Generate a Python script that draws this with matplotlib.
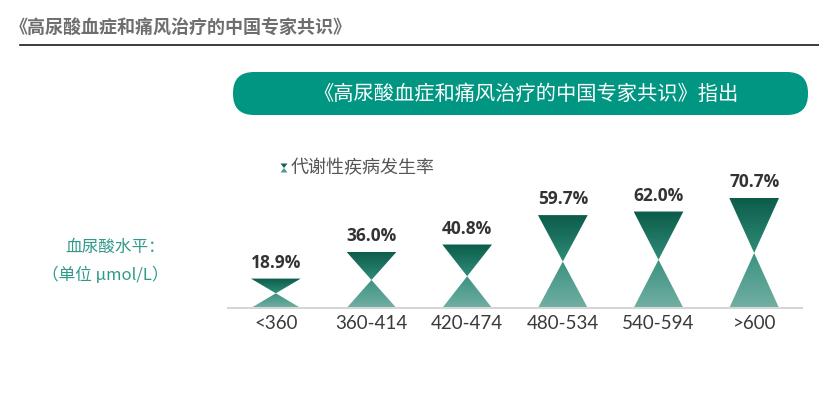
import numpy as np
import matplotlib.pyplot as plt
from matplotlib.patches import Polygon, FancyBboxPatch
from matplotlib.colors import LinearSegmentedColormap

plt.rcParams['font.family'] = ['Noto Sans CJK SC', 'DejaVu Sans']

categories = ['<360', '360-414', '420-474', '480-534', '540-594', '>600']
rates = [18.9, 36.0, 40.8, 59.7, 62.0, 70.7]
value_labels = ['18.9%', '36.0%', '40.8%', '59.7%', '62.0%', '70.7%']

W, H = 819, 397
fig = plt.figure(figsize=(W / 100, H / 100), dpi=100)


def px(x, y):
    # pixel position (from top-left) -> figure fraction
    return x / W, 1 - y / H


# overlay axes in pixel units (y measured upward)
lax = fig.add_axes([0, 0, 1, 1], zorder=-1)
lax.set_xlim(0, W)
lax.set_ylim(0, H)
lax.axis('off')

# header
fig.text(*px(10, 28), '《高尿酸血症和痛风治疗的中国专家共识》', fontsize=13, fontweight='bold',
         color='#6e6e6e', va='center', ha='left')
lax.plot([20, W], [H - 45, H - 45], color='#1a1a1a', lw=1.2)

# banner
lax.add_patch(FancyBboxPatch((233, H - 115), 575, 43,
                             boxstyle='round,pad=0,rounding_size=21',
                             facecolor='#009682', edgecolor='none'))
fig.text(*px(526, 94), '《高尿酸血症和痛风治疗的中国专家共识》指出',
         fontsize=14.6, color='white', ha='center', va='center')

# left label
fig.text(*px(165, 247), '血尿酸水平：', fontsize=12, color='#2f9a8a', ha='right', va='center')
fig.text(*px(168, 275), '（单位 μmol/L）', fontsize=12, color='#2f9a8a', ha='right', va='center')

# main axes: baseline at y=308 px, 1.556 px per percent
ax_left, ax_bottom = px(228, 308)
ax_w = (802 - 228) / W
ax_h = 1.556 * 100 / H
ax = fig.add_axes([ax_left, ax_bottom, ax_w, ax_h])
ax.set_xlim(-0.5, len(categories) - 0.5)
ax.set_ylim(0, 100)

top_cmap = LinearSegmentedColormap.from_list('top', ['#2f8c78', '#0b5c49'])
bot_cmap = LinearSegmentedColormap.from_list('bot', ['#72afa3', '#3a9280'])
grad = np.linspace(0, 1, 256).reshape(-1, 1)
bw = 0.52

for i, v in enumerate(rates):
    mid = v / 2
    # upper inverted triangle
    tri_top = Polygon([[i - bw / 2, v], [i + bw / 2, v], [i, mid]], closed=True,
                      facecolor='none', edgecolor='none')
    ax.add_patch(tri_top)
    im = ax.imshow(grad, cmap=top_cmap, extent=[i - bw / 2, i + bw / 2, mid, v],
                   origin='lower', aspect='auto', zorder=2)
    im.set_clip_path(tri_top)
    # lower triangle
    tri_bot = Polygon([[i - bw / 2, 0], [i + bw / 2, 0], [i, mid]], closed=True,
                      facecolor='none', edgecolor='none')
    ax.add_patch(tri_bot)
    im = ax.imshow(grad, cmap=bot_cmap, extent=[i - bw / 2, i + bw / 2, 0, mid],
                   origin='lower', aspect='auto', zorder=2)
    im.set_clip_path(tri_bot)
    ax.annotate(value_labels[i], (i, v), xytext=(0, 5), textcoords='offset points',
                ha='center', va='bottom', fontsize=12.5, fontweight='bold', color='#333333',
                family=['Open Sans', 'DejaVu Sans'])

ax.set_xticks(range(len(categories)))
ax.set_xticklabels(categories, fontsize=13.5, color='#3a3a3a',
                   family=['Lato', 'DejaVu Sans'], fontweight='normal')
ax.tick_params(axis='x', length=0, pad=5)
ax.set_yticks([])
for s in ['top', 'right', 'left']:
    ax.spines[s].set_visible(False)
ax.spines['bottom'].set_color('#d6d6d6')
ax.spines['bottom'].set_linewidth(1.5)
ax.patch.set_alpha(0)

# legend marker + label
mx, my = 284, H - 168
lax.add_patch(Polygon([[mx - 3.5, my + 4.5], [mx + 3.5, my + 4.5], [mx, my]], facecolor='#0f6552'))
lax.add_patch(Polygon([[mx - 3.5, my - 4.5], [mx + 3.5, my - 4.5], [mx, my]], facecolor='#4a9c8a'))
fig.text(*px(291, 168), '代谢性疾病发生率', fontsize=13, color='#555555', ha='left', va='center')

fig.savefig('out.png', dpi=100)
